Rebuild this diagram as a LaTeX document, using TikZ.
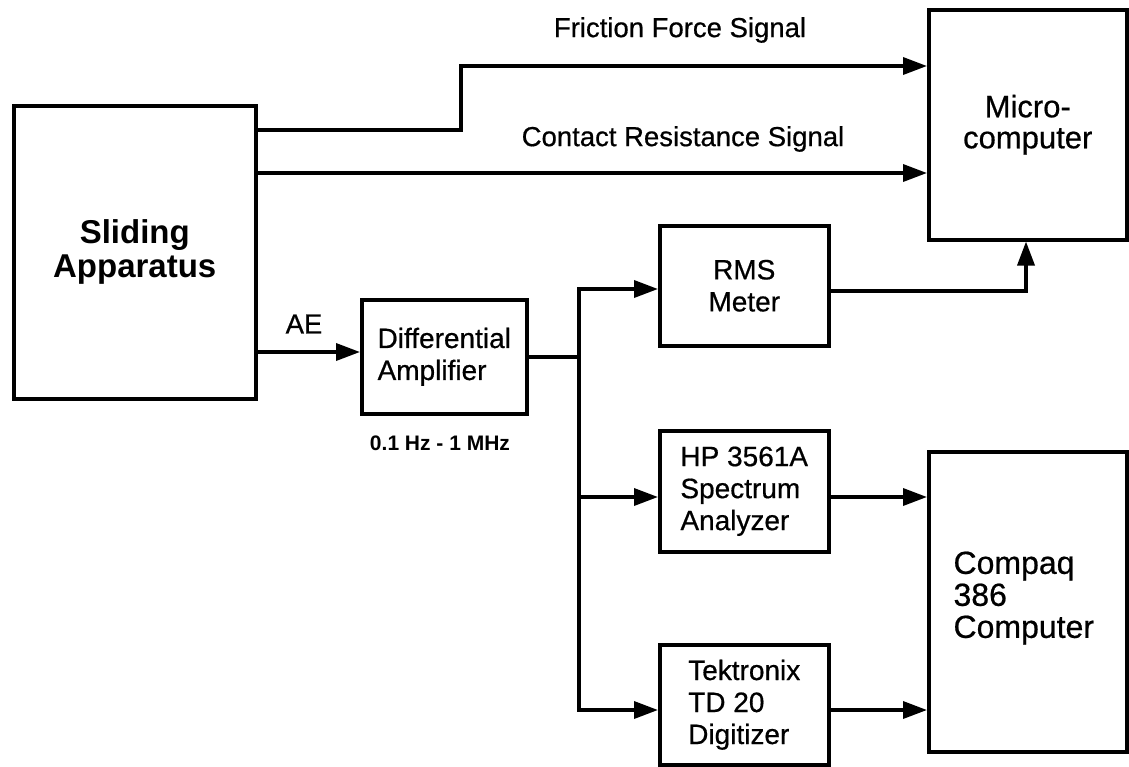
\documentclass[tikz,border=0pt]{standalone}
\usepackage{fontspec}
\setmainfont{Liberation Sans}
\newfontfamily\heavy[FakeBold=0.6]{Liberation Sans}
\usetikzlibrary{arrows.meta,calc}
\begin{document}
\begin{tikzpicture}[x=1pt,y=-1pt,
  box/.style={draw,line width=3.5pt,inner sep=0pt,anchor=north west,align=center},
  ln/.style={line width=3.5pt},
  arr/.style={line width=3.5pt,-{Triangle[length=24pt,width=17pt]}},
  lbl/.style={font=\heavy\fontsize{27.5}{30}\selectfont,inner sep=0pt},
  btxt/.style={font=\heavy\fontsize{28}{32}\selectfont}]
\useasboundingbox (0,0) rectangle (1129,766);
% boxes
\node[box,minimum width=242pt,minimum height=293pt,font=\bfseries\fontsize{33}{34}\selectfont] (slide) at (12,104) {Sliding\\Apparatus};
\node[box,minimum width=198pt,minimum height=230pt,font=\heavy\fontsize{31}{31}\selectfont] (micro) at (927,8) {Micro-\\computer};
\node[box,minimum width=165pt,minimum height=114pt,btxt,align=left] (diff) at (360,298) {Differential\\Amplifier};
\node[box,minimum width=169pt,minimum height=120pt,btxt] (rms) at (658,224) {RMS\\Meter};
\node[box,minimum width=169pt,minimum height=121pt,btxt,align=left] (hp) at (658,429) {HP 3561A\\Spectrum\\Analyzer};
\node[box,minimum width=169pt,minimum height=120pt,btxt,align=left] (tek) at (658,643) {Tektronix\\TD 20\\Digitizer};
\node[box,minimum width=198pt,minimum height=300pt] (cpq) at (927,450) {};
\node[font=\heavy\fontsize{32}{32}\selectfont,align=left,anchor=west] (cpqt) at (950,598) {Compaq\\386\\Computer};
% labels
\node[lbl] (lf) at (680,30) {Friction Force Signal};
\node[lbl] (lc) at (683,139) {Contact Resistance Signal};
\node[lbl] (lae) at (304,324) {AE};
\node[font=\bfseries\fontsize{21}{24}\selectfont,inner sep=0pt] (lhz) at (440,443) {0.1 Hz - 1 MHz};
% coordinates
\coordinate (f1) at (461,130);
\coordinate (f2) at (461,66);
\coordinate (c1) at (600,173);
\coordinate (ae) at (300,352);
\coordinate (bus) at (579,357);
\coordinate (bt) at (579,289);
\coordinate (bm) at (579,497);
\coordinate (bb) at (579,710);
\coordinate (r1) at (1026,291);
% connectors
\draw[arr] (slide.east |- f1) -- (f1) -- (f2) -- (f2 -| micro.west);
\draw[arr] (slide.east |- c1) -- (c1 -| micro.west);
\draw[arr] (slide.east |- ae) -- (ae -| diff.west);
\draw[ln] (diff.east |- bus) -- (bus);
\draw[ln] ([yshift=1.75pt]bt) -- ([yshift=-1.75pt]bb);
\draw[arr] ([xshift=-1.75pt]bt) -- (bt -| rms.west);
\draw[arr] (bm) -- (bm -| hp.west);
\draw[arr] ([xshift=-1.75pt]bb) -- (bb -| tek.west);
\draw[arr] (rms.east |- r1) -- (r1) -- (r1 |- micro.south);
\draw[arr] (hp.east |- bm) -- (bm -| cpq.west);
\draw[arr] (tek.east |- bb) -- (bb -| cpq.west);
\end{tikzpicture}
\end{document}
